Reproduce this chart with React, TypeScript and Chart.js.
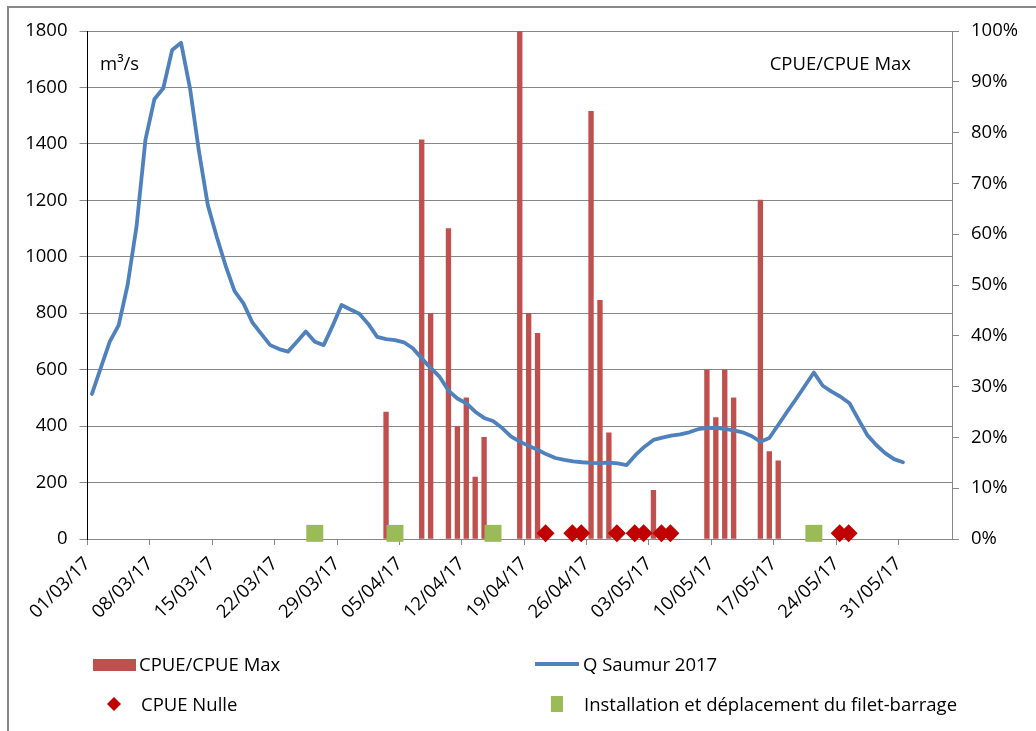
import React, { useEffect, useRef } from 'react';
import { Chart, registerables } from 'chart.js';

Chart.register(...registerables);

// ---- Data ----
const xTickLabels = [
  '01/03/17', '08/03/17', '15/03/17', '22/03/17', '29/03/17', '05/04/17', '12/04/17',
  '19/04/17', '26/04/17', '03/05/17', '10/05/17', '17/05/17', '24/05/17', '31/05/17',
];

// Daily flow Q Saumur 2017 (m3/s), from 01/03 to 31/05
const qSaumur2017 = [
  514, 607, 699, 758, 900, 1107, 1414, 1558, 1597, 1733, 1758, 1597, 1375, 1183, 1071, 968,
  878, 835, 767, 727, 687, 673, 664, 699, 735, 699, 687, 755, 829, 813, 798,
  762, 716, 708, 705, 697, 676, 640, 606, 575, 526, 498, 481, 451, 429, 418, 394,
  364, 345, 330, 316, 300, 287, 280, 275, 272, 270, 269, 271, 268, 262,
  298, 327, 351, 359, 366, 371, 378, 389, 393, 394, 390, 385, 378, 365, 345, 358,
  404, 451, 496, 543, 590, 543, 522, 504, 481, 424, 368, 333, 304, 283, 272,
];

// CPUE / CPUE Max (fraction)
const cpueDates = [
  '03/04', '07/04', '08/04', '10/04', '11/04', '12/04', '13/04', '14/04', '18/04', '19/04', '20/04',
  '26/04', '27/04', '28/04', '03/05', '09/05', '10/05', '11/05', '12/05', '15/05', '16/05', '17/05',
];
const cpueValues = [
  0.25, 0.786, 0.444, 0.611, 0.222, 0.278, 0.122, 0.2, 1.0, 0.444, 0.405,
  0.842, 0.47, 0.209, 0.096, 0.333, 0.239, 0.333, 0.278, 0.667, 0.172, 0.154,
];

// CPUE Nulle dates
const cpueNulleDates = ['21/04', '24/04', '25/04', '29/04', '01/05', '02/05', '04/05', '05/05', '24/05', '25/05'];
const cpueNulleLevel = 20;

// Installation et déplacement du filet-barrage
const filetDates = ['26/03', '04/04', '15/04', '21/05'];
const filetLevel = 20;

// ---- Helpers ----
const dayOf = (ddmm: string) => {
  const [d, m] = ddmm.split('/').map(Number);
  return Math.round((Date.UTC(2017, m - 1, d) - Date.UTC(2017, 2, 1)) / 86400000);
};

const FONT = "'Open Sans'";
const FS = 18.5;
const TXT = '#000000';
const GRID = '#878787';
const RED = '#C0504D';
const BLUE = '#4F81BD';
const DARKRED = '#C00000';
const GREEN = '#9BBB59';

const decorPlugin = {
  id: 'decor',
  beforeDraw(chart: any) {
    const ctx = chart.ctx;
    ctx.save();
    ctx.fillStyle = '#ffffff';
    ctx.fillRect(0, 0, chart.width, chart.height);
    ctx.strokeStyle = GRID;
    ctx.lineWidth = 2;
    ctx.beginPath();
    ctx.moveTo(8, chart.height);
    ctx.lineTo(8, 7);
    ctx.lineTo(chart.width, 7);
    ctx.stroke();
    ctx.restore();
  },
  afterDraw(chart: any) {
    const ctx = chart.ctx;
    ctx.save();
    ctx.fillStyle = TXT;
    ctx.font = `${FS}px ${FONT}`;
    ctx.textBaseline = 'alphabetic';
    // unit annotations
    ctx.textAlign = 'left';
    ctx.fillText('m³/s', 100, 69.5);
    ctx.textAlign = 'right';
    ctx.fillText('CPUE/CPUE Max', 911, 69.5);

    // legend
    ctx.textAlign = 'left';
    ctx.fillStyle = RED;
    ctx.fillRect(93, 659, 43, 12);
    ctx.fillStyle = TXT;
    ctx.fillText(chart.data.datasets[0].label, 139, 671);

    ctx.strokeStyle = BLUE;
    ctx.lineWidth = 4;
    ctx.beginPath();
    ctx.moveTo(535, 664);
    ctx.lineTo(579, 664);
    ctx.stroke();
    ctx.fillText(chart.data.datasets[1].label, 583, 671);

    ctx.fillStyle = DARKRED;
    ctx.beginPath();
    ctx.moveTo(114, 697);
    ctx.lineTo(121, 704);
    ctx.lineTo(114, 711);
    ctx.lineTo(107, 704);
    ctx.closePath();
    ctx.fill();
    ctx.fillStyle = TXT;
    ctx.fillText(chart.data.datasets[3].label, 141, 711);

    ctx.fillStyle = GREEN;
    ctx.fillRect(551, 696, 12, 16);
    ctx.fillStyle = TXT;
    ctx.fillText(chart.data.datasets[2].label, 584, 711);
    ctx.restore();
  },
};

export default function App() {
  const ref = useRef<HTMLCanvasElement | null>(null);

  useEffect(() => {
    if (!ref.current) return;
    const font = { family: FONT, size: FS };
    const chart = new Chart(ref.current, {
      type: 'bar',
      data: {
        datasets: [
          {
            type: 'bar',
            label: 'CPUE/CPUE Max',
            data: cpueDates.map((d, i) => ({ x: dayOf(d) + 0.5, y: cpueValues[i] })),
            yAxisID: 'y1',
            backgroundColor: RED,
            barThickness: 4.7,
            order: 4,
          } as any,
          {
            type: 'line',
            label: 'Q Saumur 2017',
            data: qSaumur2017.map((v, i) => ({ x: i + 0.5, y: v })),
            yAxisID: 'y',
            borderColor: BLUE,
            borderWidth: 3.8,
            borderJoinStyle: 'round',
            borderCapStyle: 'round',
            pointRadius: 0,
            tension: 0,
            fill: false,
            order: 3,
          } as any,
          {
            type: 'line',
            label: 'Installation et déplacement du filet-barrage',
            data: filetDates.map((d) => ({ x: dayOf(d) + 0.5, y: filetLevel })),
            yAxisID: 'y',
            showLine: false,
            clip: false,
            pointStyle: 'rect',
            pointRadius: 12,
            pointBackgroundColor: GREEN,
            pointBorderColor: GREEN,
            pointBorderWidth: 0,
            order: 2,
          } as any,
          {
            type: 'line',
            label: 'CPUE Nulle',
            data: cpueNulleDates.map((d) => ({ x: dayOf(d) + 0.4, y: cpueNulleLevel })),
            yAxisID: 'y',
            showLine: false,
            clip: false,
            pointStyle: 'rectRot',
            pointRadius: 9,
            pointBackgroundColor: DARKRED,
            pointBorderColor: DARKRED,
            pointBorderWidth: 0,
            order: 1,
          } as any,
        ],
      },
      options: {
        animation: false,
        responsive: false,
        devicePixelRatio: 1,
        layout: { padding: { top: 31, left: 0, right: 0, bottom: 0 } },
        plugins: { legend: { display: false }, tooltip: { enabled: false } },
        scales: {
          x: {
            type: 'linear',
            min: 0,
            max: 97,
            offset: false,
            afterBuildTicks: (s: any) => {
              s.ticks = xTickLabels.map((_, i) => ({ value: i * 7 }));
            },
            afterFit: (s: any) => {
              s.height = 192;
            },
            ticks: {
              autoSkip: false,
              minRotation: 45,
              maxRotation: 45,
              padding: 8,
              color: TXT,
              font,
              callback: (v: any) => xTickLabels[Math.round(Number(v) / 7)] ?? '',
            },
            grid: { drawOnChartArea: false, drawTicks: true, tickLength: 6, color: GRID, offset: false },
            border: { color: GRID, width: 1 },
          } as any,
          y: {
            type: 'linear',
            position: 'left',
            min: 0,
            max: 1800,
            afterFit: (s: any) => {
              s.width = 87.5;
            },
            ticks: { stepSize: 200, padding: 12, color: TXT, font, callback: (v: any) => String(v) },
            grid: { color: GRID, tickLength: 8, lineWidth: 1 },
            border: { color: '#000000', width: 1 },
          } as any,
          y1: {
            type: 'linear',
            position: 'right',
            min: 0,
            max: 1,
            afterFit: (s: any) => {
              s.width = 84;
            },
            ticks: {
              stepSize: 0.1,
              padding: 12,
              color: TXT,
              font,
              callback: (v: any) => `${Math.round(Number(v) * 100)}%`,
            },
            grid: { drawOnChartArea: false, drawTicks: true, tickLength: 7, color: GRID },
            border: { color: GRID, width: 1 },
          } as any,
        },
      },
      plugins: [decorPlugin],
    });
    return () => chart.destroy();
  }, []);

  return (
    <div style={{ position: 'absolute', left: 0, top: 0, width: 1036, height: 731, background: '#fff' }}>
      <canvas ref={ref} width={1036} height={731} style={{ width: 1036, height: 731, display: 'block' }} />
    </div>
  );
}
